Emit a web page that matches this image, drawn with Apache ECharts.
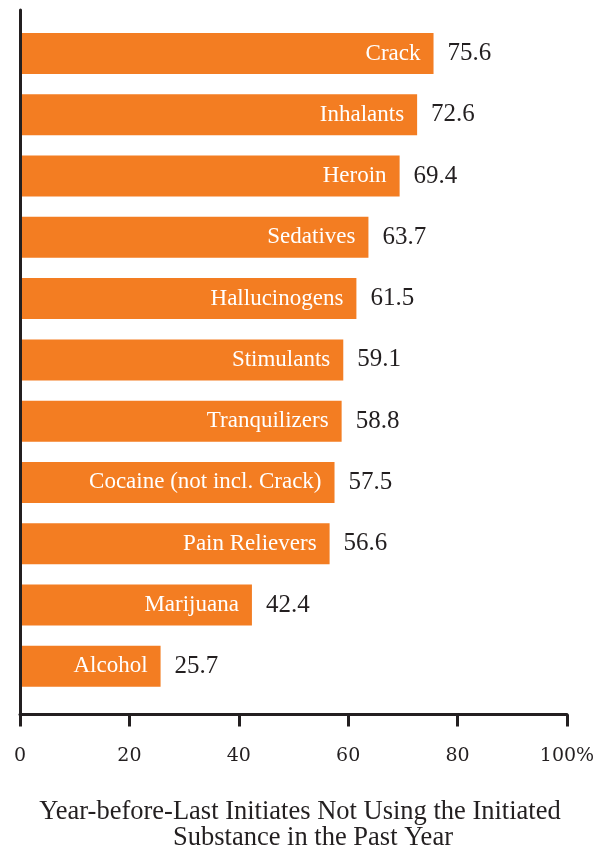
<!DOCTYPE html>
<html>
<head>
<meta charset="utf-8">
<script src="https://cdn.jsdelivr.net/npm/echarts@6/dist/echarts.min.js"></script>
<style>
  html, body { margin: 0; padding: 0; background: #fff; }
  #chart { width: 613px; height: 849px; }
</style>
</head>
<body>
<div id="chart"></div>
<script>
// Substances, top to bottom
const categories = [
  'Crack', 'Inhalants', 'Heroin', 'Sedatives', 'Hallucinogens', 'Stimulants',
  'Tranquilizers', 'Cocaine (not incl. Crack)', 'Pain Relievers', 'Marijuana', 'Alcohol'
];
// Percent of year-before-last initiates not using the substance in the past year
const values = [75.6, 72.6, 69.4, 63.7, 61.5, 59.1, 58.8, 57.5, 56.6, 42.4, 25.7];
// Horizontal axis ticks
const xTicks = [0, 20, 40, 60, 80, 100];
const axisTitle = ['Year-before-Last Initiates Not Using the Initiated', 'Substance in the Past Year'];

const INK = '#231f20';
const ORANGE = '#f37d22';
const SERIF = '"Liberation Serif", "DejaVu Serif", serif';
const WIDE_SERIF = '"DejaVu Serif", "Liberation Serif", serif';

const chart = echarts.init(document.getElementById('chart'), null, { renderer: 'canvas' });

chart.setOption({
  animation: false,
  backgroundColor: '#ffffff',
  title: [
    {
      text: axisTitle[0], left: 295, top: 794, textAlign: 'center',
      textStyle: { fontFamily: SERIF, fontSize: 26.5, fontWeight: 'normal', color: INK }
    },
    {
      text: axisTitle[1], left: 308, top: 820, textAlign: 'center',
      textStyle: { fontFamily: SERIF, fontSize: 26.5, fontWeight: 'normal', color: INK }
    }
  ],
  grid: [
    // bars
    { left: 20, right: 46, top: 22.86, bottom: 152.1 },
    // frame with the value axis
    { left: 20, right: 46, top: 10, bottom: 134.5 }
  ],
  xAxis: [
    {
      gridIndex: 0, type: 'value', min: xTicks[0], max: xTicks[xTicks.length - 1],
      show: false
    },
    {
      gridIndex: 1, type: 'value', min: xTicks[0], max: xTicks[xTicks.length - 1],
      interval: xTicks[1] - xTicks[0],
      axisLine: { show: true, onZero: false, lineStyle: { color: INK, width: 3 } },
      axisTick: { show: true, length: 12, lineStyle: { color: INK, width: 3 } },
      axisLabel: {
        margin: 32, color: INK, fontFamily: WIDE_SERIF, fontSize: 19,
        formatter: v => (v === 100 ? '100%' : String(v))
      },
      splitLine: { show: false },
      z: 5
    }
  ],
  yAxis: [
    {
      gridIndex: 0, type: 'category', data: categories, inverse: true,
      axisLine: { show: false }, axisTick: { show: false },
      axisLabel: { show: false }, splitLine: { show: false }
    },
    {
      gridIndex: 1, type: 'value', min: 0, max: 1,
      axisLine: { show: true, onZero: false, lineStyle: { color: INK, width: 3 } },
      axisTick: { show: false }, axisLabel: { show: false }, splitLine: { show: false },
      z: 5
    }
  ],
  series: [
    {
      name: 'Percent',
      type: 'bar',
      xAxisIndex: 0, yAxisIndex: 0,
      data: values,
      barWidth: 41,
      itemStyle: { color: ORANGE },
      label: {
        show: true, position: 'insideRight', distance: 13,
        formatter: p => p.name,
        color: '#ffffff', fontFamily: SERIF, fontSize: 23
      },
      silent: true
    },
    {
      name: 'Value',
      type: 'bar',
      xAxisIndex: 0, yAxisIndex: 0,
      data: values,
      barWidth: 41,
      barGap: '-100%',
      itemStyle: { color: 'rgba(0,0,0,0)' },
      label: {
        show: true, position: 'right', distance: 14,
        formatter: p => p.value.toFixed(1),
        color: INK, fontFamily: SERIF, fontSize: 25
      },
      silent: true
    }
  ]
});
</script>
</body>
</html>
